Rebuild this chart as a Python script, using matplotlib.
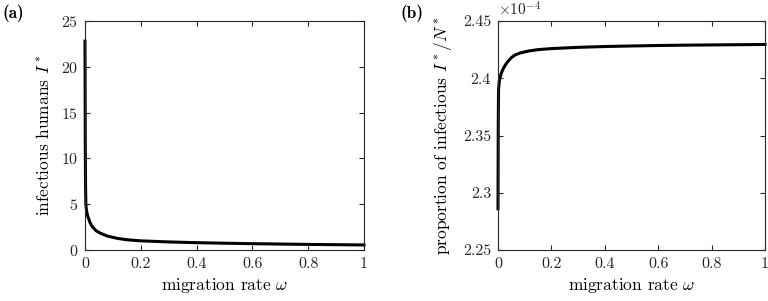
import numpy as np
import matplotlib
matplotlib.use('Agg')
import matplotlib.pyplot as plt
from matplotlib.ticker import FuncFormatter

# infectious humans I* against migration rate (panel a)
omega_a = [0, 0.001, 0.002, 0.003, 0.005, 0.008, 0.011, 0.018, 0.026, 0.04,
           0.056, 0.08, 0.116, 0.15, 0.2, 0.3, 0.4, 0.5, 0.6, 0.7, 0.8, 0.9, 1.0]
infected = [22.8, 12.0, 7.0, 5.0, 4.4, 3.9, 3.6, 3.0, 2.55, 2.1,
            1.82, 1.52, 1.27, 1.12, 1.0, 0.88, 0.80, 0.74, 0.69, 0.65, 0.61, 0.58, 0.55]

# proportion of infectious I*/N* (panel b), in units of 1e-4
omega_b = [0, 0.001, 0.002, 0.005, 0.009, 0.015, 0.021, 0.03, 0.04, 0.05, 0.065,
           0.085, 0.115, 0.15, 0.2, 0.3, 0.4, 0.5, 0.6, 0.7, 0.8, 0.9, 1.0]
proportion = [2.286, 2.36, 2.39, 2.398, 2.402, 2.406, 2.409, 2.4125, 2.4155, 2.418, 2.4205,
              2.4222, 2.4238, 2.4250, 2.4259, 2.4270, 2.4277, 2.4282, 2.4286, 2.4289,
              2.4291, 2.4293, 2.4295]
proportion = [p * 1e-4 for p in proportion]

plt.rcParams['font.family'] = 'cmr10'
plt.rcParams['mathtext.fontset'] = 'cm'
plt.rcParams['axes.formatter.use_mathtext'] = True

W, H = 768, 301
fig = plt.figure(figsize=(W / 100, H / 100), dpi=100)
ax1 = fig.add_axes([85 / W, 51 / H, 279 / W, 229 / H])
ax2 = fig.add_axes([498 / W, 51 / H, 267 / W, 229 / H])

edge = '#262626'
for ax in (ax1, ax2):
    ax.tick_params(direction='in', top=True, right=True, length=3.5,
                   labelsize=11.5, color=edge, labelcolor='#262626', pad=5)
    for s in ax.spines.values():
        s.set_color(edge)
        s.set_linewidth(0.8)
    ax.set_xlim(0, 1)
    ax.set_xticks([0, 0.2, 0.4, 0.6, 0.8, 1])
    ax.xaxis.set_major_formatter(FuncFormatter(lambda v, p: f'{v:g}'))
    ax.set_xlabel(r'migration rate $\omega$', fontsize=12.5, labelpad=4)

# lines not clipped, so the vertical part next to the axis keeps its full width
ax1.plot(omega_a, infected, color='black', lw=2.2, clip_on=False)
ax1.set_ylim(0, 25)
ax1.set_yticks([0, 5, 10, 15, 20, 25])
ax1.set_ylabel(r'infectious humans $I^*$', fontsize=12.5, labelpad=6)

ax2.plot(omega_b, proportion, color='black', lw=2.2, clip_on=False)
ax2.set_ylim(2.25e-4, 2.45e-4)
ax2.set_yticks([2.25e-4, 2.3e-4, 2.35e-4, 2.4e-4, 2.45e-4])
ax2.yaxis.set_major_formatter(FuncFormatter(lambda v, p: f'{round(v * 1e4, 4):g}'))
ax2.set_ylabel(r'proportion of infectious $I^*/N^*$', fontsize=12.5, labelpad=6)
ax2.text(0.0, 1.01, r'$\times 10^{-4}$', transform=ax2.transAxes,
         fontsize=11, ha='left', va='bottom', color='#262626')

fig.text(2 / W, 1 - 4 / H, '(a)', family='cmb10', fontsize=12.5, va='top', ha='left')
fig.text(400 / W, 1 - 4 / H, '(b)', family='cmb10', fontsize=12.5, va='top', ha='left')

fig.savefig('out.png', dpi=100)
